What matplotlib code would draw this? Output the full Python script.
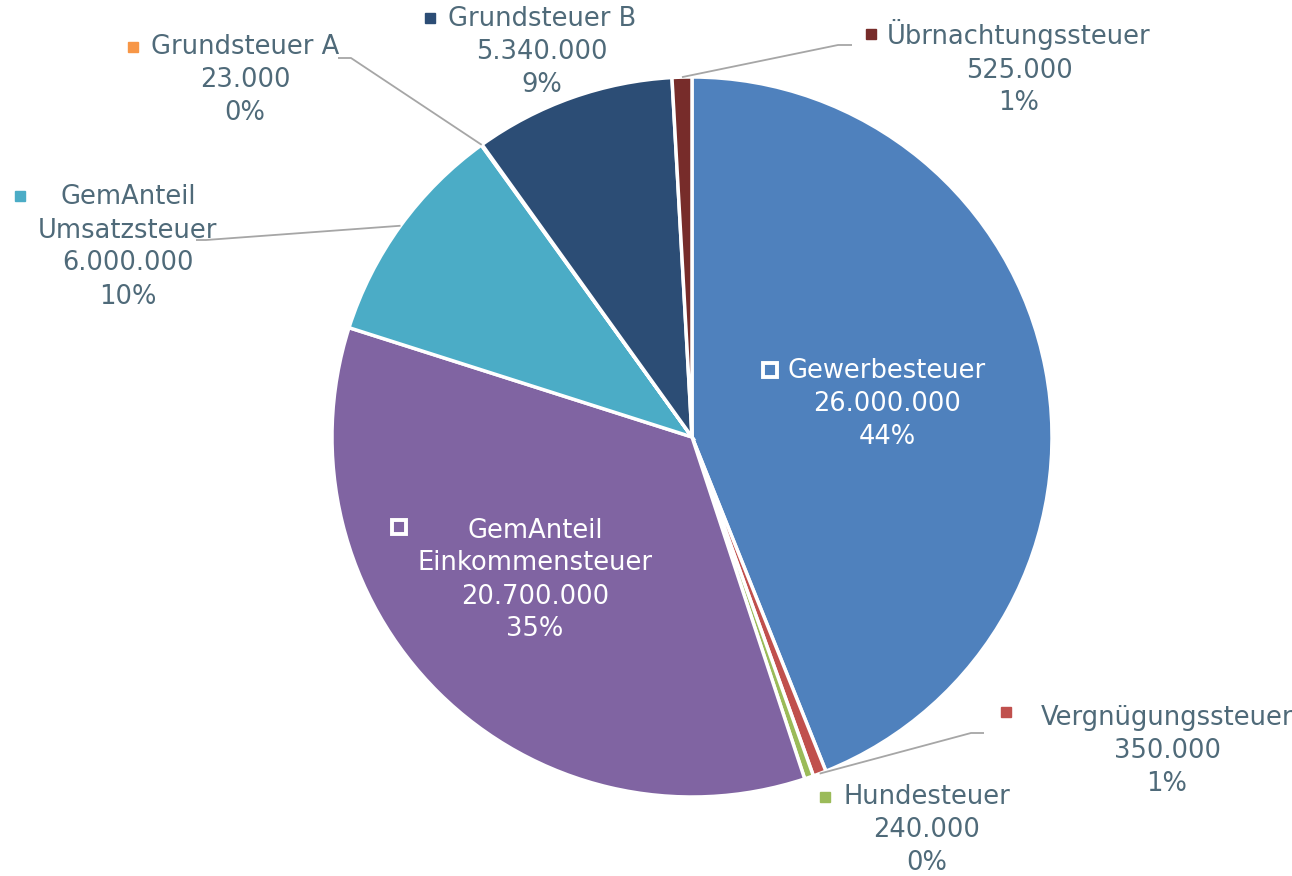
import matplotlib
matplotlib.use("Agg")
import matplotlib.pyplot as plt
import numpy as np

# data (clockwise from 12 o'clock)
names = [
    "Gewerbesteuer",
    "Vergnügungssteuer",
    "Hundesteuer",
    "GemAnteil\nEinkommensteuer",
    "GemAnteil\nUmsatzsteuer",
    "Grundsteuer A",
    "Grundsteuer B",
    "Übrnachtungssteuer",
]
values = [26000000, 350000, 240000, 20700000, 6000000, 23000, 5340000, 525000]
colors = ["#4F81BD", "#C0504D", "#9BBB59", "#8064A2", "#4BACC6", "#F79646", "#2C4D75", "#772C2A"]

W, H = 1292, 876
CX, CY, R = 692, 437, 360
TXT = "#4F6A79"
LEAD = "#A6A6A6"

# label layout in pixel coords (top-down): text block centre, key marker, leader start/elbow
layout = [
    dict(txt=(887, 404), key=(770, 370), inside=True, lead=None),
    dict(txt=(1167, 751), key=(1006, 712), inside=False, lead=[(984, 733), (971, 733)]),
    dict(txt=(927, 830), key=(825, 797), inside=False, lead=None),
    dict(txt=(535, 580), key=(399, 527), inside=True, lead=None),
    dict(txt=(128, 247), key=(20, 196), inside=False, lead=[(196, 240), (206, 240)]),
    dict(txt=(245, 80), key=(133, 47), inside=False, lead=[(338, 58), (351, 58)]),
    dict(txt=(542, 52), key=(430, 18), inside=False, lead=None),
    dict(txt=(1019, 68), key=(871, 34), inside=False, lead=[(852, 45), (838, 45)]),
]


def py(y):
    return H - y


fig = plt.figure(figsize=(W / 100, H / 100), dpi=100)
ax = fig.add_axes([0, 0, 1, 1])

wedges, _ = ax.pie(
    values,
    colors=colors,
    startangle=90,
    counterclock=False,
    center=(CX, py(CY)),
    radius=R,
    wedgeprops=dict(edgecolor="white", linewidth=2.5),
    frame=True,
)
ax.set_xlim(0, W)
ax.set_ylim(0, H)
ax.set_aspect("equal")
ax.axis("off")

total = sum(values)
for w, name, v, lay, col in zip(wedges, names, values, layout, colors):
    pct = round(100 * v / total)
    label = f"{name}\n{v:,}".replace(",", ".") + f"\n{pct}%"
    tx, ty = lay["txt"]
    tcol = "white" if lay["inside"] else TXT
    ax.text(tx, py(ty), label, ha="center", va="center", ma="center",
            fontsize=18.5, color=tcol, linespacing=1.35, family="DejaVu Sans")
    kx, ky = lay["key"]
    if lay["inside"]:
        ax.plot(kx, py(ky), marker="s", ms=10, mfc="none", mec="white", mew=2.8)
    else:
        ax.plot(kx, py(ky), marker="s", ms=7, mfc=col, mec=col)
    if lay["lead"]:
        mid = np.deg2rad((w.theta1 + w.theta2) / 2)
        ex = CX + R * np.cos(mid)
        ey = py(CY) + R * np.sin(mid)
        xs = [p[0] for p in lay["lead"]] + [ex]
        ys = [py(p[1]) for p in lay["lead"]] + [ey]
        ax.plot(xs, ys, color=LEAD, lw=1.3, solid_capstyle="butt")

fig.savefig("out.png", dpi=100)
